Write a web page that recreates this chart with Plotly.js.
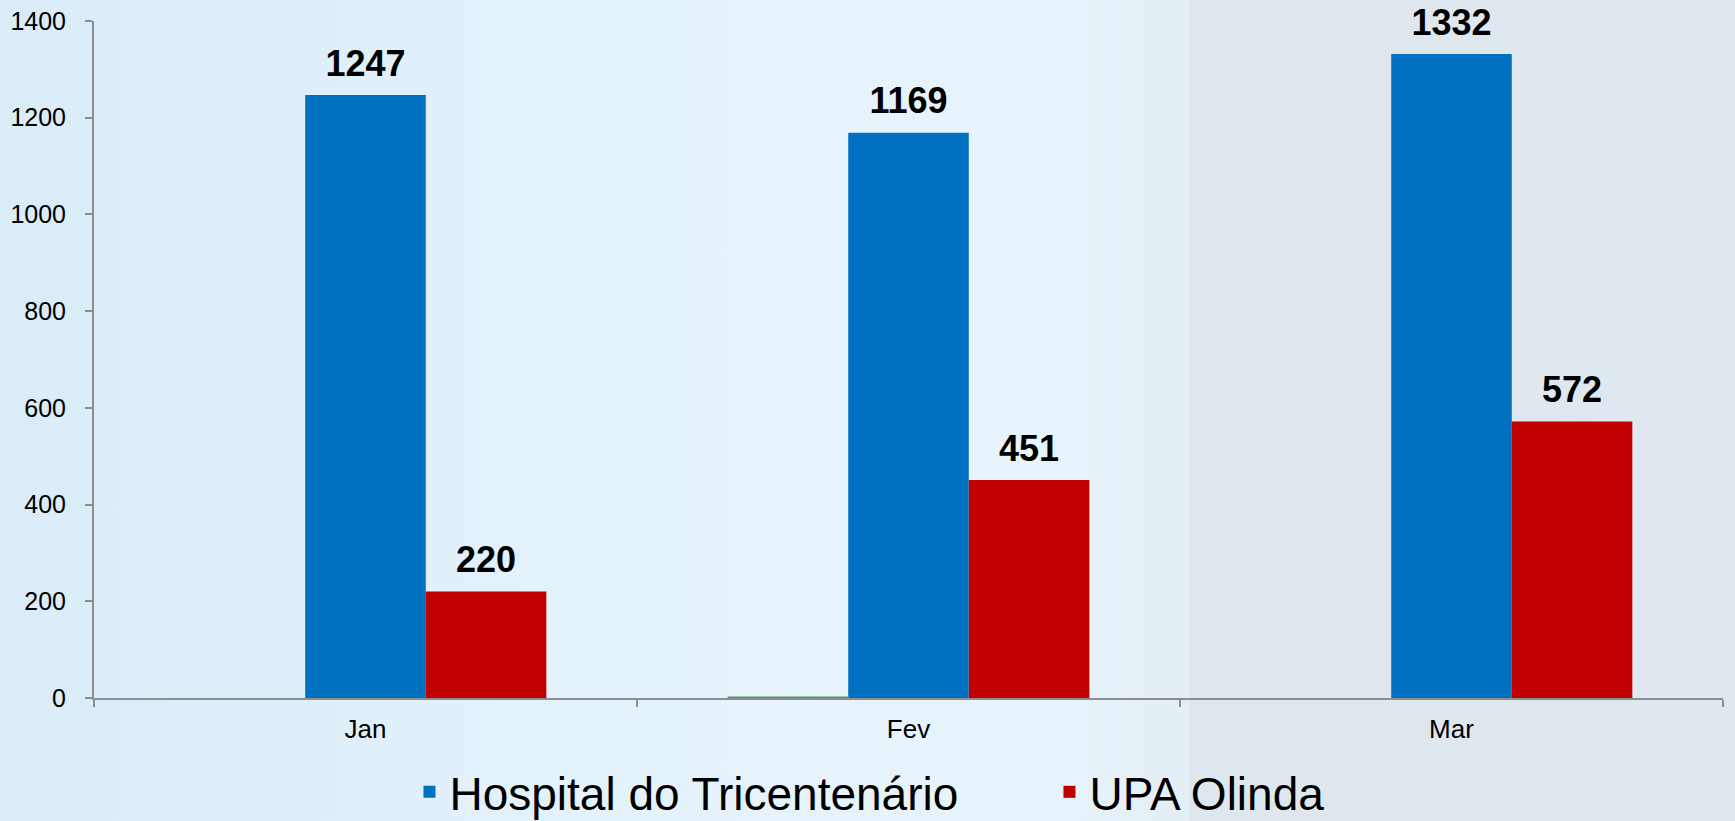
<!DOCTYPE html>
<html>
<head>
<meta charset="utf-8">
<script src="https://cdn.plot.ly/plotly-3.0.1.min.js"></script>
<style>
  html, body { margin: 0; padding: 0; }
  body {
    width: 1735px; height: 821px; overflow: hidden;
    background: linear-gradient(90deg, #d9ecf8 0%, #e4f2fb 35%, #e8f4fb 60%, #e3eef5 68.5%, #dde7ed 68.6%, #dfe8ee 100%);
  }
  #chart { width: 1735px; height: 821px; }
</style>
</head>
<body>
<div id="chart"></div>
<script>
const months = ['Jan', 'Fev', 'Mar'];
const seriesNames = ['Outros', 'Hospital do Tricentenário', 'UPA Olinda'];
const outros = [0, 3, 0];
const hospital = [1247, 1169, 1332];
const upa = [220, 451, 572];
const yTicks = [0, 200, 400, 600, 800, 1000, 1200, 1400];

const colors = ['#4f9a5a', '#0070c0', '#c00000'];
const values = [outros, hospital, upa];
const GAP = 0.334;

const bars = values.map((v, i) => ({
  type: 'bar', x: months, y: v, name: seriesNames[i],
  marker: { color: colors[i] },
  offsetgroup: String(i),
  showlegend: i > 0,
  hoverinfo: 'skip',
}));

// value labels above the bars, grouped the same way as the bars
const labels = values.map((v, i) => ({
  type: 'scatter', mode: i > 0 ? 'markers+text' : 'markers',
  x: months, y: v, orientation: 'v',
  offsetgroup: String(i),
  texttemplate: '%{y}', textposition: 'top center',
  textfont: { family: 'Liberation Sans, Arial, sans-serif', size: 36, color: '#000', weight: 'bold' },
  marker: { size: 15, opacity: 0 },
  cliponaxis: false, showlegend: false, hoverinfo: 'skip',
}));

Plotly.newPlot('chart', [...bars, ...labels], {
  width: 1735, height: 821,
  paper_bgcolor: 'rgba(0,0,0,0)', plot_bgcolor: 'rgba(0,0,0,0)',
  margin: { l: 94, r: 12, t: 21, b: 123 },
  barmode: 'group', bargap: GAP, bargroupgap: 0,
  scattermode: 'group', scattergap: GAP,
  font: { family: 'Liberation Sans, Arial, sans-serif', color: '#000' },
  xaxis: {
    type: 'category', tickson: 'boundaries',
    ticks: 'outside', ticklen: 7, tickwidth: 2, tickcolor: '#8e8e8e',
    showline: true, linecolor: '#8e8e8e', linewidth: 2,
    showgrid: false, zeroline: false,
    tickfont: { size: 26, color: '#000' }, ticklabelstandoff: 7,
  },
  yaxis: {
    range: [0, 1400], tickvals: yTicks,
    ticks: 'outside', ticklen: 7, tickwidth: 2, tickcolor: '#8e8e8e',
    showline: true, linecolor: '#8e8e8e', linewidth: 2,
    showgrid: false, zeroline: false,
    tickfont: { size: 25, color: '#000' }, ticklabelstandoff: 14,
  },
  legend: {
    orientation: 'h', xref: 'container', yref: 'container',
    x: 0.236, xanchor: 'left', y: 0.0354, yanchor: 'middle',
    font: { size: 46, color: '#000' },
    bgcolor: 'rgba(0,0,0,0)', entrywidth: 595,
  },
  hovermode: false,
}, { displayModeBar: false, staticPlot: true });
</script>
</body>
</html>
